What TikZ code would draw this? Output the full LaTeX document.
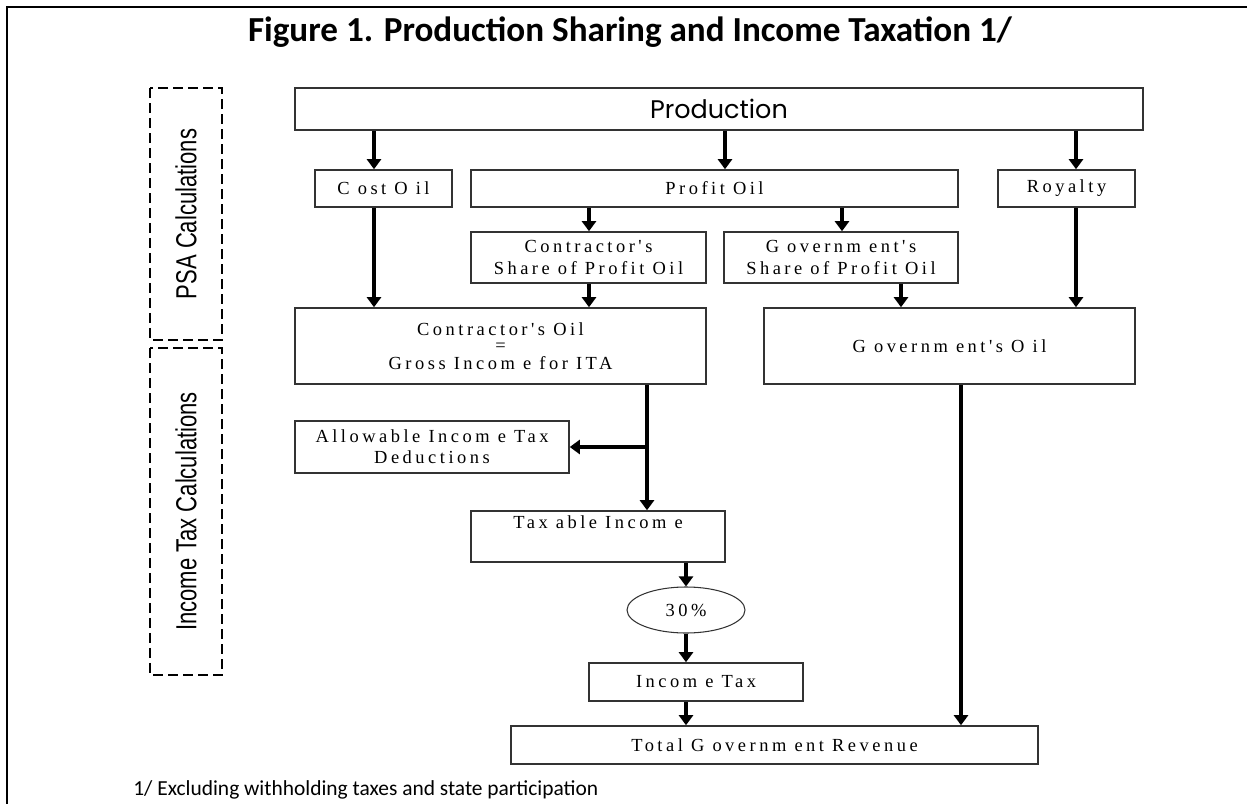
\documentclass[tikz,border=0pt]{standalone}
\usepackage{fontspec}
\usepackage{tikz}
\usetikzlibrary{positioning,calc,shapes.geometric}
\usetikzlibrary{arrows.meta}
\newfontfamily\boxfont{Liberation Serif}[LetterSpace=19]
\newfontfamily\titlefont{Carlito}
\newfontfamily\prodfont{Poppins}
\newfontfamily\narrowfont{Liberation Sans}[FakeStretch=0.76]
\tikzset{
	box/.style={draw=black!80,line width=0.9pt,inner sep=0pt,align=center,
		font=\boxfont\fontsize{10.5}{13}\selectfont},
	flow/.style={draw=black,line width=2.2pt,-{Triangle[width=0.28cm,length=0.2cm]}},
	sidebox/.style={draw=black,line width=1.5pt,dash pattern=on 0.2cm off 0.1cm,
		inner sep=0pt,font=\narrowfont\fontsize{16.5}{19}\selectfont},
	frame/.style={draw=black,line width=1.6pt},
}

\begin{document}
\begin{tikzpicture}[x=0.02cm,y=-0.02cm]
	\useasboundingbox (0,0) rectangle (1247,804);
	\draw[frame] (7,804) -- (7,7) -- (1247,7);
	\node[font=\titlefont\bfseries\fontsize{20}{24}\selectfont] (title) at (630,32)
		{Figure 1. Production Sharing and Income Taxation 1/};
	% side labels
	\node[sidebox,rotate=90,minimum width=5.04cm,minimum height=1.44cm] (psa) at (186,214) {PSA Calculations};
	\node[sidebox,rotate=90,minimum width=6.54cm,minimum height=1.44cm] (itc) at (186,511.5) {Income Tax Calculations};
	% PSA part
	\node[box,minimum width=16.96cm,minimum height=0.84cm,font=\prodfont\fontsize{14.5}{17}\selectfont] (prod) at (719,109) {Production};
	\node[box,minimum width=2.74cm,minimum height=0.74cm] (cost) at (383.5,188.5) {C ost O il};
	\node[box,minimum width=9.74cm,minimum height=0.74cm] (profit) at (714.5,188.5) {Profit Oil};
	\node[box,minimum width=2.74cm,minimum height=0.74cm] (royal) at (1066.5,188.5) {Royalty};
	\node[box,minimum width=4.7cm,minimum height=1.02cm] (cshare) at (588.5,257.5) {Contractor's\\Share of Profit Oil};
	\node[box,minimum width=4.68cm,minimum height=1.02cm] (gshare) at (841,257.5) {G overnm ent's\\Share of Profit Oil};
	\node[box,minimum width=8.22cm,minimum height=1.52cm] (coil) at (500.5,346) {Contractor's Oil\\[-4pt]=\\[-3pt]Gross Incom e for ITA};
	\node[box,minimum width=7.42cm,minimum height=1.52cm] (goil) at (949.5,346) {G overnm ent's O il};
	% income tax part
	\node[box,minimum width=5.48cm,minimum height=1.04cm,font=\boxfont\fontsize{10.5}{12}\selectfont] (allow) at (432,447) {Allowable Incom e Tax\\Deductions};
	\node[box,minimum width=5.08cm,minimum height=1.02cm] (taxable) at (598,536.5) {Tax able Incom e\\\strut};
	\node[box,ellipse,line width=0.6pt,minimum width=2.36cm,minimum height=0.92cm] (rate) at (686,610) {30\%};
	\node[box,minimum width=4.28cm,minimum height=0.76cm] (itax) at (696,682) {Incom e Tax};
	\node[box,minimum width=10.54cm,minimum height=0.76cm] (total) at (774.5,745) {Total G overnm ent Revenue};
	% arrow columns
	\coordinate (xcost) at (374,0);
	\coordinate (xprofit) at (725,0);
	\coordinate (xroyal) at (1076,0);
	\coordinate (xcs) at (589,0);
	\coordinate (xgs) at (842,0);
	\coordinate (xgs2) at (901,0);
	\coordinate (xcoil) at (647,0);
	\coordinate (xtax) at (686,0);
	\coordinate (xgoil) at (961,0);
	\coordinate (branch) at (647,447);
	\draw[flow] (prod.south -| xcost) -- (cost.north -| xcost);
	\draw[flow] (prod.south -| xprofit) -- (profit.north -| xprofit);
	\draw[flow] (prod.south -| xroyal) -- (royal.north -| xroyal);
	\draw[flow] (profit.south -| xcs) -- (cshare.north -| xcs);
	\draw[flow] (profit.south -| xgs) -- (gshare.north -| xgs);
	\draw[flow] (cost.south -| xcost) -- (coil.north -| xcost);
	\draw[flow] (cshare.south -| xcs) -- (coil.north -| xcs);
	\draw[flow] (gshare.south -| xgs2) -- (goil.north -| xgs2);
	\draw[flow] (royal.south -| xroyal) -- (goil.north -| xroyal);
	\draw[flow] (coil.south -| xcoil) -- (taxable.north -| xcoil);
	\draw[flow] (branch) -- (allow.east |- branch);
	\draw[flow] (taxable.south -| xtax) -- (rate.north -| xtax);
	\draw[flow] (rate.south -| xtax) -- (itax.north -| xtax);
	\draw[flow] (itax.south -| xtax) -- (total.north -| xtax);
	\draw[flow] (goil.south -| xgoil) -- (total.north -| xgoil);
	\node[anchor=base west,inner sep=0pt,font=\titlefont\fontsize{12.2}{14}\selectfont] (note) at (133,795)
		{1/ Excluding withholding taxes and state participation};
\end{tikzpicture}
\end{document}
